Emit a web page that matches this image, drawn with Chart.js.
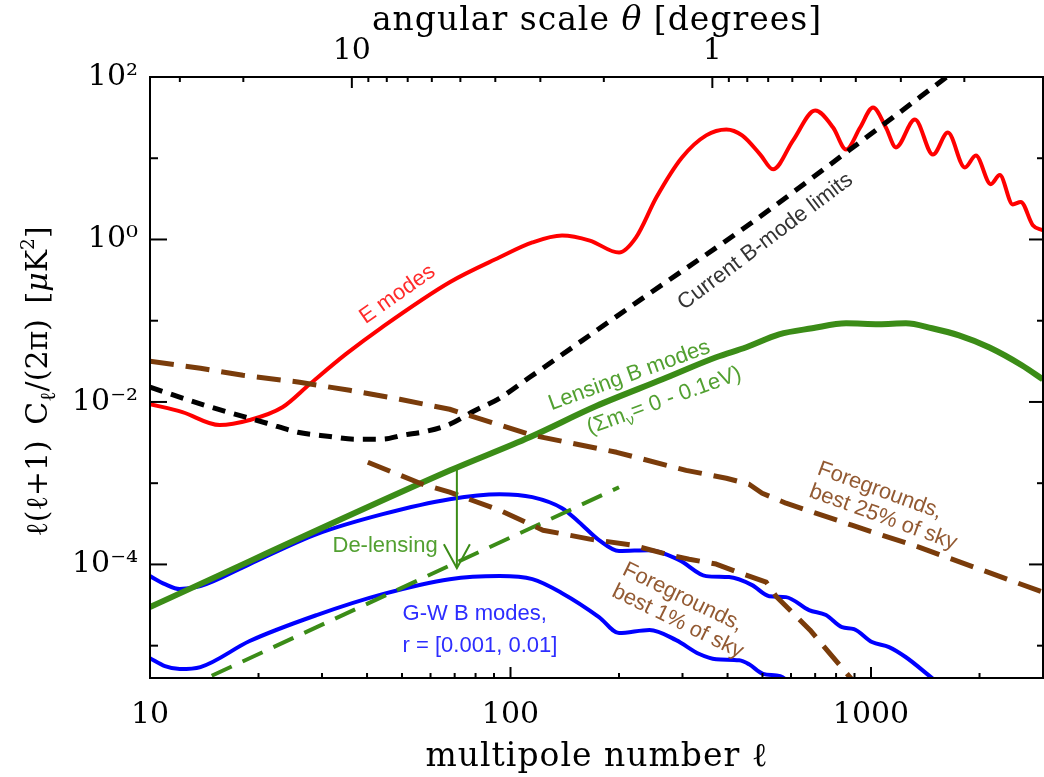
<!DOCTYPE html>
<html>
<head>
<meta charset="utf-8">
<script src="https://cdn.jsdelivr.net/npm/chart.js@4"></script>
<style>
html,body{margin:0;padding:0;background:#fff;}
canvas{display:block;}
</style>
</head>
<body>
<canvas id="c" width="1044" height="777"></canvas>
<script>
// ---------------- data ----------------
// E modes
const eEll = [10, 12.3, 15.6, 18.9, 23.3, 27.7, 35, 44, 68, 93, 115, 139, 166, 200, 223, 254, 299, 349, 397, 439, 493, 535, 608, 700, 785, 853, 933, 1013, 1100, 1173, 1324, 1485, 1634, 1821, 1954, 2149, 2276, 2473, 2603, 2811, 2995];
const eVal = [0.0094, 0.0075, 0.0052, 0.0060, 0.0086, 0.0165, 0.039, 0.083, 0.30, 0.60, 0.92, 1.12, 0.97, 0.69, 1.06, 3.3, 10.2, 19.1, 22.6, 19.1, 11.1, 7.3, 16.6, 38.7, 23.9, 12.8, 23.9, 42.2, 23.9, 13.6, 30, 11.1, 20.7, 7.7, 10.8, 4.8, 6.2, 2.7, 2.9, 1.5, 1.3];

// Current B-mode limits
const limEll = [10, 14.2, 21.1, 25.7, 31.1, 37.4, 44.2, 50.2, 58.5, 67.8, 79, 93.2, 113, 228, 459, 869, 1614, 2000];
const limVal = [0.0152, 0.0091, 0.00547, 0.00424, 0.00378, 0.00348, 0.00348, 0.00389, 0.00436, 0.00532, 0.00769, 0.0111, 0.0201, 0.178, 1.53, 12.5, 98.6, 202];

// Lensing B modes
const lensEll = [10, 67.8, 113, 173, 264, 372, 451, 556, 687, 853, 1052, 1250, 1476, 1754, 2124, 2619, 2995];
const lensVal = [2.99e-5, 1.43e-3, 3.68e-3, 8.9e-3, 0.019, 0.0355, 0.0471, 0.068, 0.0807, 0.0929, 0.0904, 0.0929, 0.0807, 0.066, 0.0471, 0.0283, 0.019];

// De-lensed residual (dashed green)
const delensEll = [10, 200];
const delensVal = [1.9e-6, 8.9e-4];

// Gravitational-wave B modes, r = 0.01 and r = 0.001
const gwHiEll = [10, 11.0, 12.1, 13.8, 18.9, 29.0, 44.2, 67.8, 93.2, 115, 139, 155, 176, 200, 243, 294, 349, 404, 468, 522, 581, 673, 750, 831, 897, 1006, 1122, 1250, 1466, 1600];
const gwHiVal = [7.18e-5, 5.72e-5, 4.97e-5, 5.41e-5, 1.01e-4, 2.36e-4, 4.16e-4, 6.36e-4, 7.32e-4, 6.73e-4, 4.92e-4, 3.31e-4, 1.99e-4, 1.46e-4, 1.50e-4, 1.13e-4, 7.18e-5, 6.98e-5, 5.56e-5, 4.07e-5, 3.96e-5, 2.74e-5, 2.38e-5, 1.69e-5, 1.60e-5, 1.11e-5, 9.6e-6, 7.2e-6, 4.1e-6, 3.0e-6];
const gwLoEll = [10, 11.0, 12.1, 13.8, 18.9, 29.0, 44.2, 67.8, 93.2, 115, 139, 176, 200, 243, 288, 334, 372, 431, 459, 502, 560, 620];
const gwLoVal = [7.0e-6, 5.6e-6, 5.15e-6, 5.45e-6, 1.14e-5, 2.38e-5, 4.31e-5, 6.59e-5, 7.18e-5, 6.59e-5, 4.43e-5, 2.25e-5, 1.43e-5, 1.56e-5, 1.17e-5, 7.9e-6, 6.8e-6, 6.6e-6, 5.9e-6, 4.5e-6, 4.2e-6, 3.0e-6];

// Foregrounds, best 25% and best 1% of sky
const fg25Ell = [10, 13.8, 18.1, 26.0, 35.8, 49.3, 67.8, 115, 197, 307, 397, 459, 499, 581, 885, 1358, 2427, 2995];
const fg25Val = [0.0317, 0.0260, 0.0213, 0.0175, 0.0139, 0.0108, 0.00813, 0.00389, 0.00240, 0.00144, 0.00115, 9.72e-4, 7.53e-4, 5.67e-4, 3.04e-4, 1.63e-4, 6.41e-5, 4.56e-5];
const fg1Ell = [40.2, 57.0, 67.8, 93.2, 123, 166, 218, 270, 313, 372, 442, 512, 545, 677, 874, 1052];
const fg1Val = [0.00181, 9.72e-4, 7.75e-4, 4.66e-4, 2.64e-4, 2.05e-4, 1.73e-4, 1.34e-4, 1.16e-4, 1.01e-4, 7.6e-5, 6.05e-5, 4.07e-5, 1.56e-5, 4.1e-6, 1.5e-6];

// De-lensing arrow (multipole, from, to)
const arrowEll = 71;
const arrowFrom = 1.55e-3;
const arrowTo = 9.0e-5;

// axes
const X_MIN = 10, X_MAX = 3000, Y_MIN = 4e-6, Y_MAX = 100;
const ELL_THETA = 363; // ell * theta[deg] for the top axis
const xTickValues = [10, 20, 30, 40, 50, 60, 70, 80, 90, 100, 200, 300, 400, 500, 600, 700, 800, 900, 1000, 2000, 3000];
const xTickLabels = ['10', '100', '1000'];
const thetaTickValues = [30, 20, 10, 9, 8, 7, 6, 5, 4, 3, 2, 1, 0.9, 0.8, 0.7, 0.6, 0.5, 0.4, 0.3, 0.2];
const thetaTickLabels = ['10', '1'];
const yTickValues = [1e-5, 1e-4, 1e-3, 1e-2, 1e-1, 1, 10, 100];
const yTickLabelValues = [1e-4, 1e-2, 1, 100];
const yTickLabels = ['10\u207B\u2074', '10\u207B\u00B2', '10\u2070', '10\u00B2'];

// ---------------- helpers ----------------
const same = (a, b) => Math.abs(Math.log10(a) - Math.log10(b)) < 1e-6;
const pts = (xs, ys) => xs.map((x, i) => ({x: x, y: ys[i]}));
function ds(label, xs, ys, color, width, dash, smooth, order) {
  return {
    label: label, data: pts(xs, ys), borderColor: color, backgroundColor: color,
    borderWidth: width, borderDash: dash || [], pointRadius: 0, pointHoverRadius: 0,
    fill: false, clip: 0, tension: 0, order: order,
    cubicInterpolationMode: smooth ? 'monotone' : 'default',
    borderJoinStyle: 'round', borderCapStyle: 'butt'
  };
}

const RED = '#ff0000', BLACK = '#000000', GREEN = '#3b8c17', BROWN = '#7a3c0b', BLUE = '#0000ff';

const datasets = [
  ds('Foregrounds 25%', fg25Ell, fg25Val, BROWN, 5, [24, 12], false, 1),
  ds('Foregrounds 1%', fg1Ell, fg1Val, BROWN, 5, [24, 12], false, 2),
  ds('Current B-mode limits', limEll, limVal, BLACK, 5, [13, 9], true, 3),
  ds('De-lensed', delensEll, delensVal, GREEN, 4, [22, 12], false, 4),
  ds('Lensing B modes', lensEll, lensVal, GREEN, 6, [], true, 5),
  ds('G-W r=0.01', gwHiEll, gwHiVal, BLUE, 4, [], true, 6),
  ds('G-W r=0.001', gwLoEll, gwLoVal, BLUE, 4, [], true, 7),
  ds('E modes', eEll, eVal, RED, 4, [], true, 8)
];

// ---------------- annotations ----------------
const SANS = '"Liberation Sans", Arial, sans-serif';
const SERIF = '"DejaVu Serif", serif';
const notes = [
  {parts: [{t: 'E modes'}], ell: 39.6, val: 0.0904, rot: -35, color: '#ff2b2b'},
  {parts: [{t: 'Current B-mode limits'}], ell: 303, val: 0.134, rot: -37, color: '#333333'},
  {parts: [{t: 'Lensing B modes'}], ell: 130, val: 0.0079, rot: -20, color: '#52a031'},
  {parts: [{t: '(\u03A3m'}, {t: '\u03BD', k: 0.7, dy: 0.25}, {t: '= 0 - 0.1eV)'}], ell: 166, val: 0.0040, rot: -20, color: '#52a031'},
  {parts: [{t: 'De-lensing'}], ell: 62.8, val: 1.42e-4, rot: 0, color: '#52a031', align: 'right'},
  {parts: [{t: 'G-W B modes,'}], ell: 50.2, val: 2.07e-5, rot: 0, color: '#2d2dff'},
  {parts: [{t: 'r = [0.001, 0.01]'}], ell: 50.2, val: 8.4e-6, rot: 0, color: '#2d2dff'},
  {parts: [{t: 'Foregrounds,'}], ell: 705, val: 1.30e-3, rot: 20, color: '#935a33', line: 0},
  {parts: [{t: 'best 25% of sky'}], ell: 705, val: 1.30e-3, rot: 20, color: '#935a33', line: 1},
  {parts: [{t: 'Foregrounds,'}], ell: 203, val: 7.6e-5, rot: 26, color: '#935a33', line: 0},
  {parts: [{t: 'best 1% of sky'}], ell: 203, val: 7.6e-5, rot: 26, color: '#935a33', line: 1}
];

function layoutRich(ctx, parts, size, family, spacing) {
  let w = 0; const items = [];
  parts.forEach(p => {
    const s = size * (p.k || 1);
    const font = (p.style ? p.style + ' ' : '') + s + 'px ' + family;
    ctx.font = font;
    for (const ch of p.t) {
      const cw = ctx.measureText(ch).width;
      items.push({ch: ch, font: font, x: w, dy: (p.dy || 0) * size});
      w += cw + spacing;
    }
  });
  return {items: items, width: items.length ? w - spacing : 0};
}
function drawRich(ctx, parts, x, y, rotDeg, size, family, spacing, color, align, lineOffset) {
  const L = layoutRich(ctx, parts, size, family, spacing);
  ctx.save();
  ctx.translate(x, y);
  ctx.rotate(rotDeg * Math.PI / 180);
  ctx.fillStyle = color;
  ctx.textAlign = 'left';
  ctx.textBaseline = 'alphabetic';
  const x0 = align === 'center' ? -L.width / 2 : (align === 'right' ? -L.width : 0);
  const y0 = lineOffset || 0;
  L.items.forEach(it => { ctx.font = it.font; ctx.fillText(it.ch, x0 + it.x, y0 + it.dy); });
  ctx.restore();
}

const decor = {
  id: 'decor',
  afterDatasetsDraw(chart) {
    const ctx = chart.ctx;
    const {left, right, top, bottom} = chart.chartArea;
    const xs = chart.scales.x, x2 = chart.scales.x2, ys = chart.scales.y;
    ctx.save();
    // de-lensing arrow
    const ax = xs.getPixelForValue(arrowEll);
    const ay1 = ys.getPixelForValue(arrowFrom), ay2 = ys.getPixelForValue(arrowTo);
    ctx.strokeStyle = GREEN; ctx.lineWidth = 2; ctx.lineCap = 'butt'; ctx.lineJoin = 'miter';
    ctx.beginPath(); ctx.moveTo(ax, ay1); ctx.lineTo(ax, ay2); ctx.stroke();
    ctx.beginPath(); ctx.moveTo(ax - 13, ay2 - 24); ctx.lineTo(ax, ay2); ctx.lineTo(ax + 13, ay2 - 24); ctx.stroke();

    // annotations
    notes.forEach(n => {
      const px = xs.getPixelForValue(n.ell), py = ys.getPixelForValue(n.val);
      drawRich(ctx, n.parts, px, py, n.rot, 22, SANS, 0, n.color, n.align || 'left', (n.line || 0) * 24);
    });

    // ticks (inward) and frame
    ctx.strokeStyle = '#000'; ctx.lineWidth = 2;
    const seg = (a, b, c, d) => { ctx.beginPath(); ctx.moveTo(a, b); ctx.lineTo(c, d); ctx.stroke(); };
    xTickValues.forEach(v => {
      const p = xs.getPixelForValue(v);
      if (p < left + 2 || p > right - 2) return;
      const major = Math.abs(Math.log10(v) - Math.round(Math.log10(v))) < 1e-9;
      seg(p, bottom, p, bottom - (major ? 11 : 5));
    });
    thetaTickValues.forEach(v => {
      const p = x2.getPixelForValue(v);
      if (p < left + 2 || p > right - 2) return;
      const major = Math.abs(Math.log10(v) - Math.round(Math.log10(v))) < 1e-9;
      seg(p, top, p, top + (major ? 11 : 5));
    });
    yTickValues.forEach(v => {
      const p = ys.getPixelForValue(v);
      if (p < top + 2 || p > bottom - 2) return;
      const major = Math.round(Math.log10(v)) % 2 === 0;
      seg(left, p, left + (major ? 17 : 8), p);
      seg(right, p, right - (major ? 14 : 6), p);
    });
    ctx.strokeRect(left, top, right - left, bottom - top);
    ctx.restore();
  },
  afterDraw(chart) {
    const ctx = chart.ctx;
    const {left, right, top, bottom} = chart.chartArea;
    const cx = (left + right) / 2;
    drawRich(ctx, [{t: 'angular scale '}, {t: '\u03B8', style: 'italic'}, {t: ' [degrees]'}], cx, 30, 0, 33, SERIF, 1, '#000', 'center');
    drawRich(ctx, [{t: 'multipole number '}, {t: '\u2113'}], cx, 766, 0, 33, SERIF, 1, '#000', 'center');
    drawRich(ctx, [{t: '\u2113(\u2113+1) \u2009C'}, {t: '\u2113', k: 0.72, dy: 0.28}, {t: '/(2\u03C0) \u2009['}, {t: '\u03BC', style: 'italic'}, {t: 'K'}, {t: '2', k: 0.62, dy: -0.45}, {t: ']'}],
      47, (top + bottom) / 2 + 4, -90, 30, SERIF, 0, '#000', 'center');
  }
};

// ---------------- chart ----------------
const tickFont = {family: 'DejaVu Serif', size: 30};
const noSidePad = s => { s.paddingLeft = 0; s.paddingRight = 0; };
new Chart(document.getElementById('c'), {
  type: 'line',
  data: {datasets: datasets},
  plugins: [decor],
  options: {
    responsive: false,
    animation: false,
    events: [],
    layout: {padding: {left: 0, right: 1, top: 0, bottom: 0}},
    elements: {line: {capBezierPoints: false}},
    plugins: {legend: {display: false}, title: {display: false}, tooltip: {enabled: false}},
    scales: {
      x: {
        type: 'logarithmic', position: 'bottom', min: X_MIN, max: X_MAX,
        afterBuildTicks: s => { s.ticks = xTickValues.map(v => ({value: v})); },
        afterFit: s => { s.height = 99; noSidePad(s); },
        grid: {display: false, drawTicks: false}, border: {display: false},
        ticks: {
          autoSkip: false, maxRotation: 0, minRotation: 0, padding: 19, color: '#000', font: tickFont,
          callback: v => { const i = xTickLabels.findIndex(l => same(+l, v)); return i >= 0 ? xTickLabels[i] : ''; }
        }
      },
      x2: {
        type: 'logarithmic', axis: 'x', position: 'top', reverse: true,
        min: ELL_THETA / X_MAX, max: ELL_THETA / X_MIN,
        afterBuildTicks: s => { s.ticks = thetaTickValues.map(v => ({value: v})); },
        afterFit: s => { s.height = 77; noSidePad(s); },
        grid: {display: false, drawTicks: false}, border: {display: false},
        ticks: {
          autoSkip: false, maxRotation: 0, minRotation: 0, padding: 8, color: '#000', font: tickFont,
          callback: v => { const i = thetaTickLabels.findIndex(l => same(+l, v)); return i >= 0 ? thetaTickLabels[i] : ''; }
        }
      },
      y: {
        type: 'logarithmic', position: 'left', min: Y_MIN, max: Y_MAX,
        afterBuildTicks: s => { s.ticks = yTickValues.map(v => ({value: v})); },
        afterFit: s => { s.width = 150; },
        grid: {display: false, drawTicks: false}, border: {display: false},
        ticks: {
          autoSkip: false, padding: 12, color: '#000', font: tickFont,
          callback: v => { const i = yTickLabelValues.findIndex(l => same(l, v)); return i >= 0 ? yTickLabels[i] : ''; }
        }
      }
    }
  }
});
</script>
</body>
</html>
